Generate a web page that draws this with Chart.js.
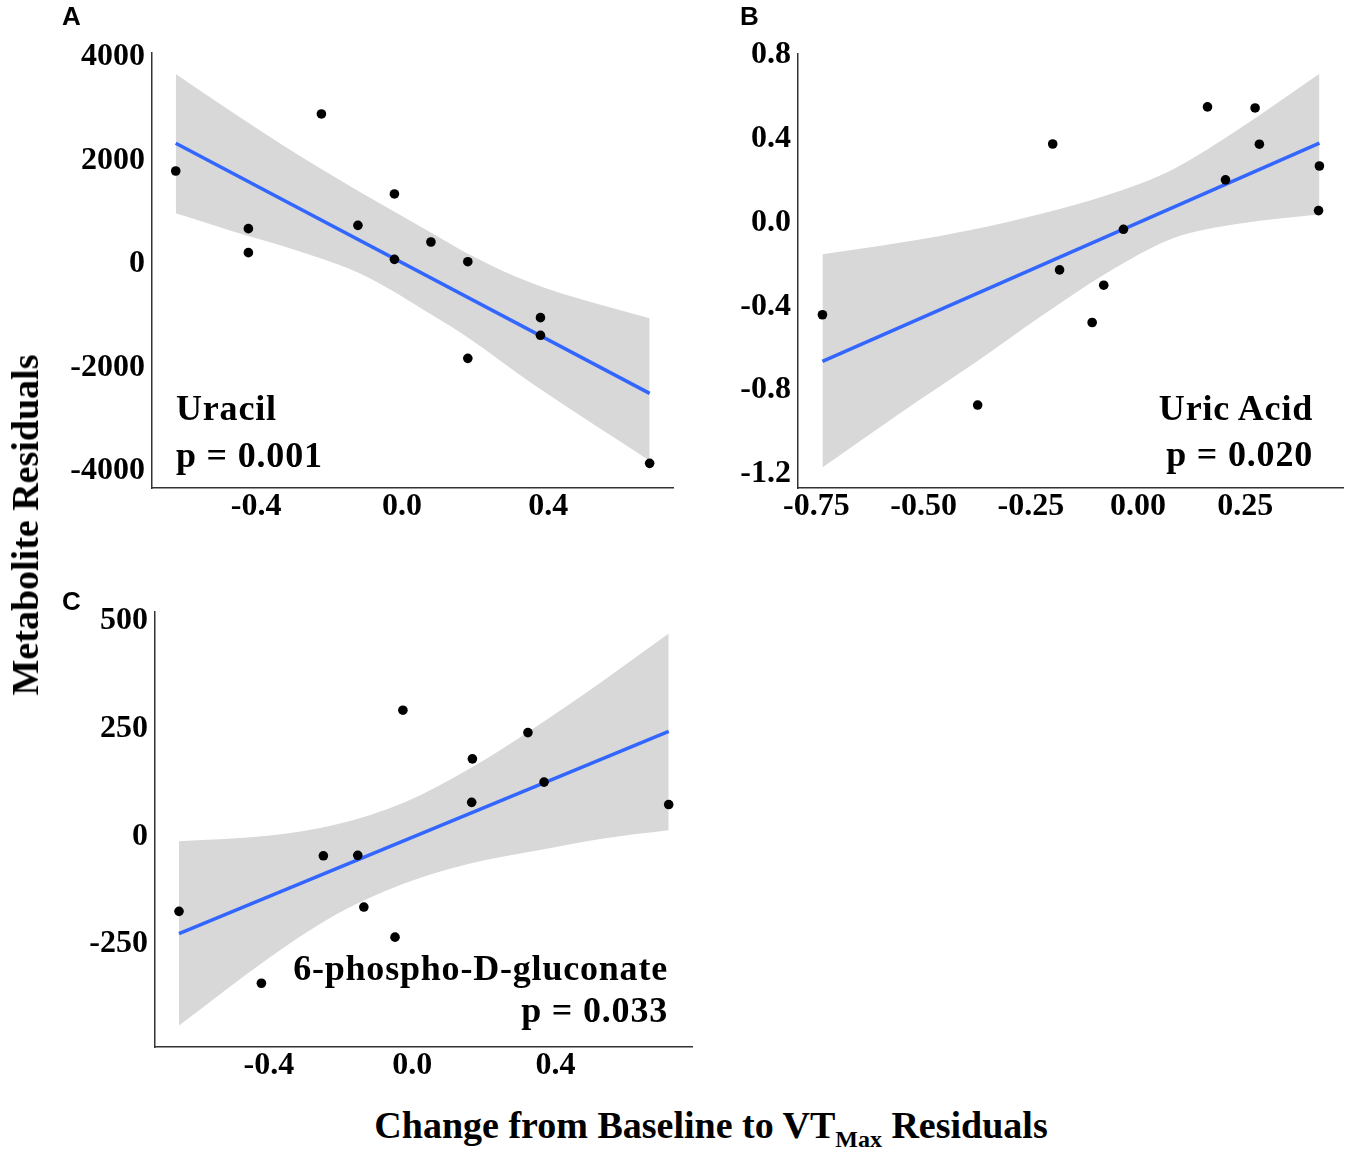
<!DOCTYPE html>
<html>
<head>
<meta charset="utf-8">
<script src="https://cdn.jsdelivr.net/npm/chart.js@4.4.1/dist/chart.umd.min.js"></script>
<style>
  body { margin: 0; background: #fff; width: 1357px; height: 1152px; position: relative; overflow: hidden; font-family: "Liberation Serif", serif; }
  canvas { position: absolute; }
  .note { position: absolute; font-weight: bold; font-size: 36px; line-height: 36px; letter-spacing: 0.8px; white-space: nowrap; color: #000; }
  .tag { position: absolute; font-family: "Liberation Sans", Arial, sans-serif; font-weight: bold; font-size: 26px; line-height: 26px; }
  .title { position: absolute; font-weight: bold; font-size: 38px; line-height: 38px; white-space: nowrap; }
  sub { font-size: 24px; vertical-align: -9px; line-height: 0; }
</style>
</head>
<body>
<canvas id="panelA" width="700" height="540" style="left:0;top:0"></canvas>
<canvas id="panelB" width="627" height="540" style="left:730px;top:0"></canvas>
<canvas id="panelC" width="720" height="540" style="left:0;top:560px"></canvas>

<div class="tag" style="left:62px;top:3px">A</div>
<div class="tag" style="left:740px;top:3px">B</div>
<div class="tag" style="left:62px;top:588px">C</div>

<div class="note" style="left:176px;top:390px">Uracil</div>
<div class="note" style="left:176px;top:437px">p = 0.001</div>
<div class="note" style="right:44px;top:390px;text-align:right">Uric Acid</div>
<div class="note" style="right:44px;top:436px;text-align:right">p = 0.020</div>
<div class="note" style="right:689px;top:950px;text-align:right">6-phospho-D-gluconate</div>
<div class="note" style="right:689px;top:992px;text-align:right">p = 0.033</div>

<div class="title" style="left:25px;top:525px;transform:translate(-50%,-50%) rotate(-90deg)">Metabolite Residuals</div>
<div class="title" style="left:711px;top:1106px;transform:translateX(-50%)">Change from Baseline to VT<sub>Max</sub> Residuals</div>

<script>
// panel A - Uracil
const uracilX = [-0.620, -0.421, -0.421, -0.221, -0.121, -0.021, -0.021, 0.079, 0.180, 0.180, 0.379, 0.379, 0.678];
const uracilY = [1797, 683, 219, 2899, 747, 1353, 90, 425, 45, -1823, -1037, -1378, -3852];
const uracilFitX = [-0.620, 0.678];
const uracilFitY = [2332, -2499];
const uracilBandX = [-0.620, -0.467, -0.284, -0.101, 0.081, 0.18, 0.36, 0.678];
const uracilBandHi = [3671, 2943, 2106, 1333, 600, 200, -380, -1050];
const uracilBandLo = [979, 640, 250, -230, -980, -1420, -2330, -3800];
const uracilXTicks = [-0.4, 0, 0.4];
const uracilYTicks = [-4000, -2000, 0, 2000, 4000];

// panel B - Uric Acid
const uricX = [-0.736, -0.374, -0.199, -0.183, -0.107, -0.080, -0.034, 0.162, 0.204, 0.273, 0.283, 0.423, 0.421];
const uricY = [-0.440, -0.871, 0.375, -0.226, -0.477, -0.299, -0.032, 0.552, 0.204, 0.547, 0.374, 0.270, 0.057];
const uricFitX = [-0.736, 0.423];
const uricFitY = [-0.663, 0.379];
const uricBandX = [-0.736, -0.56, -0.37, -0.228, -0.073, 0.082, 0.238, 0.423];
const uricBandHi = [-0.151, -0.098, -0.027, 0.041, 0.13, 0.255, 0.45, 0.71];
const uricBandLo = [-1.169, -0.917, -0.655, -0.45, -0.241, -0.075, -0.005, 0.04];
const uricXTicks = [-0.75, -0.5, -0.25, 0, 0.25];
const uricYTicks = [-1.2, -0.8, -0.4, 0, 0.4, 0.8];

// panel C - 6-phospho-D-gluconate
const glucX = [-0.651, -0.421, -0.248, -0.152, -0.135, -0.048, -0.026, 0.168, 0.166, 0.323, 0.368, 0.716];
const glucY = [-174, -341, -45, -44, -164, -234, 293, 180, 79, 241, 126, 74];
const glucFitX = [-0.651, 0.716];
const glucFitY = [-226, 244];
const glucBandX = [-0.651, -0.396, -0.21, -0.024, 0.162, 0.348, 0.534, 0.716];
const glucBandHi = [-11, 2, 28, 78, 158, 256, 362, 471];
const glucBandLo = [-439, -280, -180, -110, -63, -33, -5, 14];
const glucXTicks = [-0.4, 0, 0.4];
const glucYTicks = [-250, 0, 250, 500];

const pts = (xs, ys) => xs.map((x, i) => ({ x: x, y: ys[i] }));
const tickFont = { family: '"Liberation Serif", serif', size: 32, weight: 'bold' };

function makePanel(id, box, p) {
  // box: canvas left/top/width/height and wanted plot area edges (page coords)
  const cfg = {
    type: 'scatter',
    data: {
      datasets: [
        { data: pts(p.x, p.y), pointRadius: 4.8, pointBackgroundColor: '#000', pointBorderWidth: 0, order: 0 },
        { data: pts(p.fitX, p.fitY), showLine: true, borderColor: '#3366ff', borderWidth: 3.5, pointRadius: 0, order: 1 },
        { data: pts(p.bandX, p.hi), showLine: true, borderWidth: 0, pointRadius: 0, cubicInterpolationMode: 'monotone',
          fill: '+1', backgroundColor: '#d8d8d8', order: 2 },
        { data: pts(p.bandX, p.lo), showLine: true, borderWidth: 0, pointRadius: 0, cubicInterpolationMode: 'monotone',
          fill: false, order: 3 }
      ]
    },
    options: {
      responsive: false,
      animation: false,
      devicePixelRatio: 1,
      layout: { padding: { left: 0, top: box.t - box.top, right: box.left + box.w - box.r, bottom: 0 } },
      plugins: { legend: { display: false }, tooltip: { enabled: false } },
      scales: {
        x: {
          type: 'linear', min: p.xRange[0], max: p.xRange[1],
          grid: { display: false, drawTicks: false },
          border: { display: true, color: '#333', width: 1.5 },
          afterBuildTicks: s => { s.ticks = p.xTicks.map(v => ({ value: v })); },
          afterFit: s => { s.height = box.top + box.h - box.b; },
          ticks: { color: '#000', font: tickFont, padding: 0, autoSkip: false, maxRotation: 0,
                   callback: v => Number(v).toFixed(p.xDec) }
        },
        y: {
          type: 'linear', min: p.yRange[0], max: p.yRange[1],
          grid: { display: false, drawTicks: false },
          border: { display: true, color: '#333', width: 1.5 },
          afterBuildTicks: s => { s.ticks = p.yTicks.map(v => ({ value: v })); },
          afterFit: s => { s.width = box.l - box.left; },
          ticks: { color: '#000', font: tickFont, padding: 7, autoSkip: false,
                   callback: v => Number(v).toFixed(p.yDec) }
        }
      }
    }
  };
  return new Chart(document.getElementById(id), cfg);
}

makePanel('panelA', { left: 0, top: 0, w: 700, h: 540, l: 152, r: 673, t: 53, b: 488 }, {
  x: uracilX, y: uracilY, fitX: uracilFitX, fitY: uracilFitY,
  bandX: uracilBandX, hi: uracilBandHi, lo: uracilBandLo,
  xTicks: uracilXTicks, yTicks: uracilYTicks, xDec: 1, yDec: 0,
  xRange: [-0.685, 0.742], yRange: [-4328, 4077]
});

makePanel('panelB', { left: 730, top: 0, w: 627, h: 540, l: 798, r: 1343, t: 53.5, b: 488 }, {
  x: uricX, y: uricY, fitX: uricFitX, fitY: uricFitY,
  bandX: uricBandX, hi: uricBandHi, lo: uricBandLo,
  xTicks: uricXTicks, yTicks: uricYTicks, xDec: 2, yDec: 1,
  xRange: [-0.793, 0.478], yRange: [-1.267, 0.807]
});

makePanel('panelC', { left: 0, top: 560, w: 720, h: 540, l: 155, r: 692, t: 612, b: 1047 }, {
  x: glucX, y: glucY, fitX: glucFitX, fitY: glucFitY,
  bandX: glucBandX, hi: glucBandHi, lo: glucBandLo,
  xTicks: glucXTicks, yTicks: glucYTicks, xDec: 1, yDec: 0,
  xRange: [-0.718, 0.781], yRange: [-489, 521]
});
</script>
</body>
</html>
